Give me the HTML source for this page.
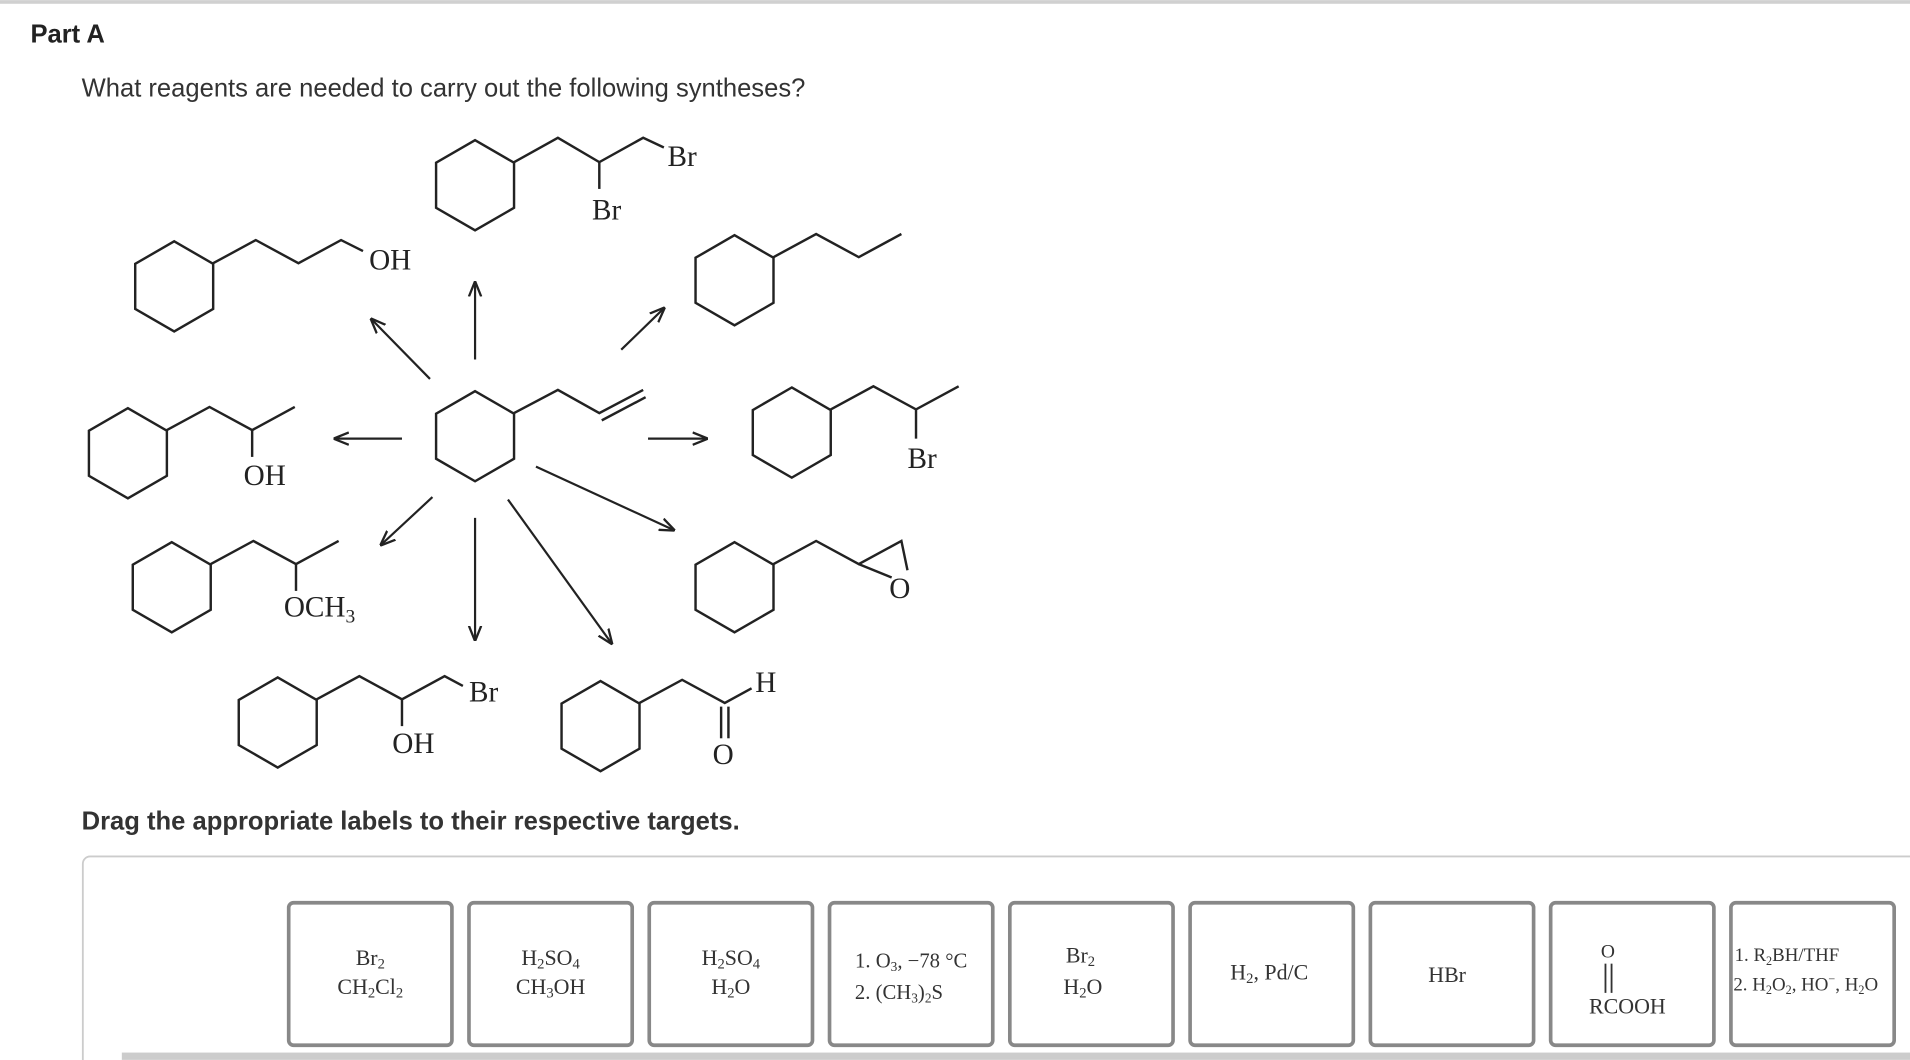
<!DOCTYPE html>
<html><head><meta charset="utf-8"><style>
html,body{margin:0;padding:0;background:#fff;width:1910px;height:1060px;overflow:hidden}
svg{display:block}
.s{font-family:"Liberation Sans",sans-serif}
.m{font-family:"Liberation Serif",serif}
</style></head><body>
<svg width="1910" height="1060" viewBox="0 0 1568 870" xmlns="http://www.w3.org/2000/svg">
<defs>
<marker id="a" viewBox="0 0 10 10" refX="9" refY="5" markerWidth="7" markerHeight="7" orient="auto"><path d="M0,1 L10,5 L0,9" fill="none" stroke="#222" stroke-width="1.5"/></marker>
<symbol id="hx" overflow="visible"><polygon points="0,-37 32,-18.5 32,18.5 0,37 -32,18.5 -32,-18.5" fill="none" stroke="#222" stroke-width="2"/></symbol>
</defs>
<rect x="0" y="0" width="1568" height="3" fill="#d0d0d0"/>
<text x="25" y="35" class="s" font-size="21" font-weight="bold" fill="#222">Part A</text>
<text x="67" y="79" class="s" font-size="21" fill="#333">What reagents are needed to carry out the following syntheses?</text>
<g stroke="#222" stroke-width="2" fill="none">
<use href="#hx" x="390" y="152"/>
<polyline points="422,133 458,113 492,133 528,113 545,121"/><line x1="492" y1="133" x2="492" y2="155"/>
<use href="#hx" x="143" y="235"/>
<polyline points="175,216 210,197 245,216 280,197 298,206"/>
<use href="#hx" x="603" y="230"/>
<polyline points="635,211 670,192 705,211 740,192"/>
<use href="#hx" x="390" y="358"/>
<polyline points="422,339 458,320 492,339 528,320"/><line x1="494" y1="345" x2="530" y2="326"/>
<use href="#hx" x="650" y="355"/>
<polyline points="682,336 717,317 752,336 787,317"/><line x1="752" y1="336" x2="752" y2="360"/>
<use href="#hx" x="105" y="372"/>
<polyline points="137,353 172,334 207,353 242,334"/><line x1="207" y1="353" x2="207" y2="375"/>
<use href="#hx" x="141" y="482"/>
<polyline points="173,463 208,444 243,463 278,444"/><line x1="243" y1="463" x2="243" y2="485"/>
<use href="#hx" x="603" y="482"/>
<polyline points="635,463 670,444 705,463 740,444 745,468"/><line x1="705" y1="463" x2="732" y2="474"/>
<use href="#hx" x="228" y="593"/>
<polyline points="260,574 295,555 330,574 365,555 380,563"/><line x1="330" y1="574" x2="330" y2="596"/>
<use href="#hx" x="493" y="596"/>
<polyline points="525,577 560,558 595,577 617,565"/><line x1="592" y1="580" x2="592" y2="606"/><line x1="598" y1="580" x2="598" y2="606"/>
</g>
<g class="m" font-size="24" fill="#222">
<text x="548" y="136">Br</text><text x="486" y="180">Br</text>
<text x="303" y="221">OH</text>
<text x="745" y="384">Br</text>
<text x="200" y="398">OH</text>
<text x="233" y="506">OCH<tspan font-size="16" dy="5">3</tspan></text>
<text x="730" y="491">O</text>
<text x="385" y="576">Br</text>
<text x="322" y="618">OH</text>
<text x="620" y="568">H</text><text x="585" y="627">O</text>
</g>
<g stroke="#222" stroke-width="1.8" marker-end="url(#a)">
<line x1="353" y1="311" x2="305" y2="262"/>
<line x1="390" y1="295" x2="390" y2="232"/>
<line x1="510" y1="287" x2="545" y2="253"/>
<line x1="330" y1="360" x2="275" y2="360"/>
<line x1="532" y1="360" x2="580" y2="360"/>
<line x1="355" y1="408" x2="313" y2="447"/>
<line x1="390" y1="425" x2="390" y2="525"/>
<line x1="440" y1="383" x2="553" y2="435"/>
<line x1="417" y1="410" x2="502" y2="528"/>
</g>
<text x="67" y="681" class="s" font-size="21" font-weight="bold" fill="#333">Drag the appropriate labels to their respective targets.</text>
<rect x="68" y="703" width="1520" height="190" rx="6" fill="#fff" stroke="#ccc" stroke-width="1.5"/>
<rect x="100" y="864" width="1468" height="6" fill="#ccc"/>
<g fill="#fff" stroke="#888" stroke-width="3">
<rect x="237" y="741" width="134" height="117" rx="4"/>
<rect x="385" y="741" width="134" height="117" rx="4"/>
<rect x="533" y="741" width="134" height="117" rx="4"/>
<rect x="681" y="741" width="134" height="117" rx="4"/>
<rect x="829" y="741" width="134" height="117" rx="4"/>
<rect x="977" y="741" width="134" height="117" rx="4"/>
<rect x="1125" y="741" width="134" height="117" rx="4"/>
<rect x="1273" y="741" width="134" height="117" rx="4"/>
<rect x="1421" y="741" width="134" height="117" rx="4"/>
</g>
<g class="m" font-size="18" fill="#333" text-anchor="middle">
<text x="304" y="792">Br<tspan font-size="12" dy="3">2</tspan></text>
<text x="304" y="816">CH<tspan font-size="12" dy="3">2</tspan><tspan dy="-3">Cl</tspan><tspan font-size="12" dy="3">2</tspan></text>
<text x="452" y="792">H<tspan font-size="12" dy="3">2</tspan><tspan dy="-3">SO</tspan><tspan font-size="12" dy="3">4</tspan></text>
<text x="452" y="816">CH<tspan font-size="12" dy="3">3</tspan><tspan dy="-3">OH</tspan></text>
<text x="600" y="792">H<tspan font-size="12" dy="3">2</tspan><tspan dy="-3">SO</tspan><tspan font-size="12" dy="3">4</tspan></text>
<text x="600" y="816">H<tspan font-size="12" dy="3">2</tspan><tspan dy="-3">O</tspan></text>
<text x="748" y="794" font-size="17">1. O<tspan font-size="11" dy="3">3</tspan><tspan dy="-3">, −78 °C</tspan></text>
<text x="738" y="820" font-size="17">2. (CH<tspan font-size="11" dy="3">3</tspan><tspan dy="-3">)</tspan><tspan font-size="11" dy="3">2</tspan><tspan dy="-3">S</tspan></text>
<text x="887" y="790">Br<tspan font-size="12" dy="3">2</tspan></text>
<text x="889" y="816">H<tspan font-size="12" dy="3">2</tspan><tspan dy="-3">O</tspan></text>
<text x="1042" y="804">H<tspan font-size="12" dy="3">2</tspan><tspan dy="-3">, Pd/C</tspan></text>
<text x="1188" y="806">HBr</text>
<text x="1320" y="786" font-size="16">O</text>
<text x="1336" y="832">RCOOH</text>
</g>
<g class="m" fill="#333" font-size="15.5">
<text x="1424" y="789">1. R<tspan font-size="10" dy="3">2</tspan><tspan dy="-3">BH/THF</tspan></text>
<text x="1423" y="813">2. H<tspan font-size="10" dy="3">2</tspan><tspan dy="-3">O</tspan><tspan font-size="10" dy="3">2</tspan><tspan dy="-3">, HO</tspan><tspan font-size="10" dy="-6">−</tspan><tspan dy="6">, H</tspan><tspan font-size="10" dy="3">2</tspan><tspan dy="-3">O</tspan></text>
</g>
<g stroke="#333" stroke-width="1.5"><line x1="1318" y1="791" x2="1318" y2="815"/><line x1="1323" y1="791" x2="1323" y2="815"/></g>
</svg>
</body></html>
